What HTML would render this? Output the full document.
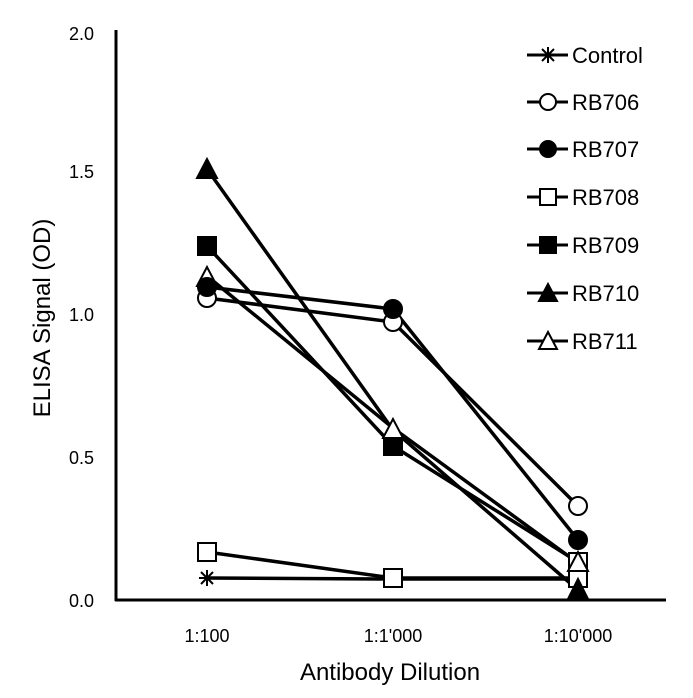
<!DOCTYPE html><html><head><style>body{margin:0;background:#fff}</style></head><body>
<svg width="693" height="693" xmlns="http://www.w3.org/2000/svg" font-family="Liberation Sans, sans-serif">
<rect width="693" height="693" fill="#fff"/>
<g stroke="#000" stroke-width="3" fill="none">
<line x1="116" y1="30" x2="116" y2="601"/>
<line x1="115" y1="600" x2="666" y2="600"/>
</g>
<g font-size="18" text-anchor="end" fill="#000">
<text x="94" y="40">2.0</text><text x="94" y="178">1.5</text><text x="94" y="321">1.0</text><text x="94" y="464">0.5</text><text x="94" y="607">0.0</text>
</g>
<g font-size="18" text-anchor="middle">
<text x="207" y="642">1:100</text><text x="393" y="642">1:1'000</text><text x="578" y="642">1:10'000</text>
</g>
<text x="390" y="680" font-size="24" text-anchor="middle">Antibody Dilution</text>
<text transform="translate(50,318) rotate(-90)" font-size="24" text-anchor="middle">ELISA Signal (OD)</text>
<g stroke="#000" stroke-width="3.5" fill="none">
<polyline points="207,578 393,579 578,579"/>
<polyline points="207,552 393,578 578,578"/>
<polyline points="207,169 393,430 578,590"/>
<polyline points="207,246 393,446 578,562"/>
<polyline points="207,276 393,428 578,563"/>
<polyline points="207,298 393,322 578,506"/>
<polyline points="207,287 393,309 578,540"/>
</g>
<g stroke="#000" stroke-width="2">
<!-- control -->
<path d="M199,578h16M207,570v16M201,572l12,12M213,572l-12,12"/>
<path d="M385,579h16M393,571v16M387,573l12,12M399,573l-12,12"/>
<rect x="198" y="543" width="18" height="18" fill="#fff"/>
<rect x="384" y="569" width="18" height="18" fill="#fff"/>
<rect x="569" y="569" width="18" height="18" fill="#fff"/>
<polygon points="578,579 568,599 588,599" fill="#000"/>
<polygon points="207,159 197,178 217,178" fill="#000"/>
<rect x="198" y="237" width="18" height="18" fill="#000"/>
<rect x="384" y="437" width="18" height="18" fill="#000"/>
<rect x="569" y="553" width="18" height="18" fill="#fff"/>
<polygon points="207,267 197,286 217,286" fill="#fff"/>
<polygon points="393,419 383,438 403,438" fill="#fff"/>
<polygon points="578,552 568,571 588,571" fill="#fff"/>
<circle cx="207" cy="298" r="9" fill="#fff"/>
<circle cx="393" cy="322" r="9" fill="#fff"/>
<circle cx="578" cy="506" r="9" fill="#fff"/>
<circle cx="207" cy="287" r="9" fill="#000"/>
<circle cx="393" cy="309" r="9" fill="#000"/>
<circle cx="578" cy="540" r="9" fill="#000"/>
</g>
<g stroke="#000" stroke-width="3"><line x1="527" y1="55" x2="568" y2="55"/><line x1="527" y1="102" x2="568" y2="102"/><line x1="527" y1="149" x2="568" y2="149"/><line x1="527" y1="197" x2="568" y2="197"/><line x1="527" y1="245" x2="568" y2="245"/><line x1="527" y1="293" x2="568" y2="293"/><line x1="527" y1="341" x2="568" y2="341"/></g>
<g stroke="#000" stroke-width="2">
<path d="M540,55h16M548,47v16M542,49l12,12M554,49l-12,12"/>
<circle cx="548" cy="102" r="8" fill="#fff"/>
<circle cx="548" cy="149" r="8" fill="#000"/>
<rect x="540" y="189" width="16" height="16" fill="#fff"/>
<rect x="540" y="237" width="16" height="16" fill="#000"/>
<polygon points="548,284 539,301 557,301" fill="#000"/>
<polygon points="548,332 539,349 557,349" fill="#fff"/>
</g>
<g font-size="22">
<text x="572" y="63">Control</text><text x="572" y="110">RB706</text><text x="572" y="157">RB707</text><text x="572" y="205">RB708</text><text x="572" y="253">RB709</text><text x="572" y="301">RB710</text><text x="572" y="349">RB711</text>
</g>
</svg>
</body></html>
